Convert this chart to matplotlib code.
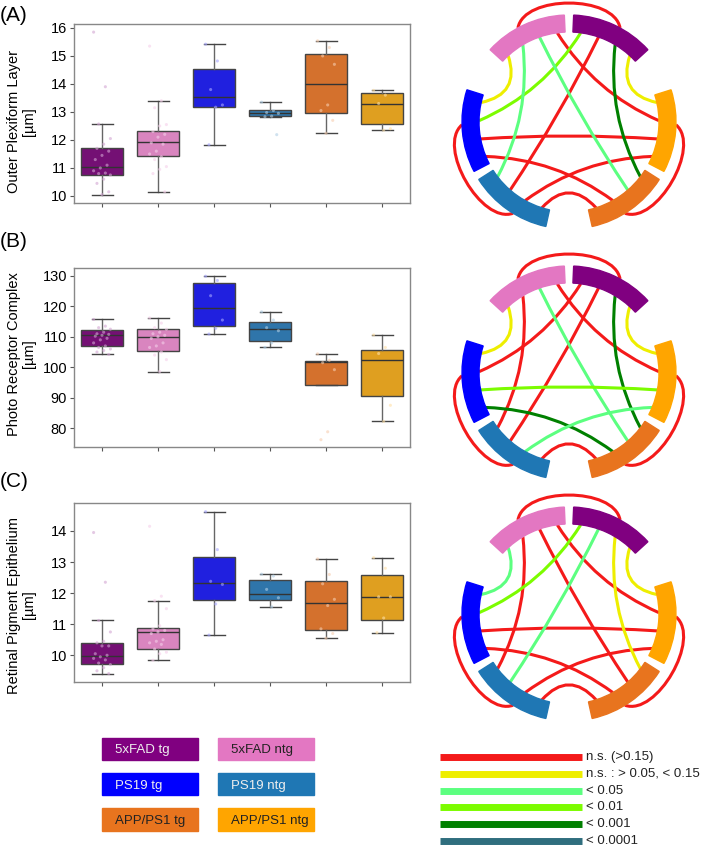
import numpy as np
import matplotlib.pyplot as plt
from matplotlib.patches import Wedge, Rectangle, PathPatch
from matplotlib.path import Path
from matplotlib.colors import to_rgb

plt.rcParams['font.family'] = ['Liberation Sans', 'DejaVu Sans']

W, H = 702, 847

# groups and colours
groups = ['5xFAD tg', '5xFAD ntg', 'PS19 tg', 'PS19 ntg', 'APP/PS1 tg', 'APP/PS1 ntg']
group_colors = ['#800080', '#e377c2', '#0000ff', '#1f77b4', '#e8741e', '#ffa500']
box_colors = ['#741074', '#d985bf', '#2020df', '#2f75aa', '#d4712d', '#df9f20']
legend_text_colors = ['#eeeeee', '#222222', '#eeeeee', '#eeeeee', '#222222', '#222222']

# box stats per group: (whisker low, Q1, median, Q3, whisker high)
opl_stats = [(10.05, 10.75, 11.03, 11.72, 12.57), (10.15, 11.42, 11.92, 12.32, 13.40),
             (11.83, 13.17, 13.52, 14.55, 15.42), (12.83, 12.85, 12.95, 13.07, 13.36),
             (12.24, 12.95, 13.99, 15.06, 15.54), (12.35, 12.57, 13.27, 13.69, 13.77)]
prc_stats = [(104.2, 107.1, 110.5, 112.3, 115.7), (98.6, 105.3, 110.0, 112.5, 116.2),
             (110.9, 113.6, 119.6, 127.7, 129.9), (106.5, 108.7, 112.7, 115.0, 118.2),
             (94.2, 94.2, 101.8, 102.0, 104.4), (82.2, 90.4, 102.5, 105.8, 110.6)]
rpe_stats = [(9.41, 9.71, 9.99, 10.39, 11.12), (9.84, 10.21, 10.74, 10.87, 11.76),
             (10.65, 11.78, 12.33, 13.16, 14.62), (11.56, 11.77, 11.98, 12.43, 12.61),
             (10.55, 10.82, 11.69, 12.39, 13.10), (10.73, 11.13, 11.88, 12.57, 13.14)]

opl_points = [
    [15.85, 13.9, 12.57, 12.05, 11.85, 11.7, 11.6, 11.45, 11.3, 11.1, 11.0, 10.9, 10.82, 10.8, 10.75, 10.6, 10.45, 10.15, 10.05],
    [15.35, 13.4, 13.15, 12.55, 12.5, 12.3, 12.2, 12.1, 11.9, 11.85, 11.6, 11.5, 11.4, 11.3, 11.05, 10.95, 10.8, 10.15],
    [15.42, 14.82, 13.8, 13.25, 13.17, 11.83],
    [13.35, 13.05, 12.98, 12.95, 12.85, 12.83, 12.19],
    [15.54, 15.3, 15.0, 14.7, 13.25, 13.05, 12.7, 12.24],
    [13.77, 13.6, 13.3, 12.4, 12.35]]
prc_points = [
    [115.7, 113.5, 113.0, 112.5, 111.5, 111.0, 110.8, 110.5, 110.2, 109.5, 109.0, 108.0, 107.0, 106.5, 106.0, 105.5, 105.0, 104.2],
    [116.2, 114.5, 113.0, 112.5, 111.5, 111.0, 110.5, 110.0, 109.5, 108.0, 107.0, 106.5, 105.0, 104.0, 102.5, 98.6],
    [129.9, 128.5, 123.5, 115.5, 112.8, 110.9],
    [118.2, 115.5, 113.0, 112.0, 108.0, 106.5],
    [104.4, 102.3, 101.5, 99.2, 78.8, 76.2],
    [110.6, 106.5, 104.5, 87.5, 82.2]]
rpe_points = [
    [13.95, 12.35, 11.12, 10.75, 10.45, 10.4, 10.3, 10.3, 10.05, 10.0, 9.95, 9.9, 9.85, 9.75, 9.7, 9.6, 9.5, 9.41],
    [14.15, 11.9, 11.76, 11.5, 10.95, 10.85, 10.8, 10.75, 10.7, 10.5, 10.45, 10.4, 10.35, 10.2, 10.1, 10.05, 9.84],
    [14.62, 13.4, 12.38, 12.28, 11.65, 10.65],
    [12.61, 12.55, 12.12, 11.85, 11.56],
    [13.1, 12.6, 12.3, 11.8, 11.6, 10.85, 10.7, 10.55],
    [13.14, 12.8, 11.88, 11.88, 11.2, 10.73]]

# significance classes
sig_labels = ['n.s. (>0.15)', 'n.s. : > 0.05, < 0.15', '< 0.05', '< 0.01', '< 0.001', '< 0.0001']
sig_colors = ['#f41a1a', '#eeee00', '#5cff80', '#7cfc00', '#008000', '#2f6e7e']

pairs = [(0, 1), (0, 2), (0, 3), (0, 4), (0, 5), (1, 2), (1, 3), (1, 4), (1, 5),
         (2, 3), (2, 4), (2, 5), (3, 4), (3, 5), (4, 5)]
opl_sig = [0, 3, 0, 4, 1, 1, 2, 2, 0, 0, 0, 0, 0, 0, 0]
prc_sig = [0, 0, 0, 4, 1, 1, 0, 2, 0, 0, 4, 3, 0, 2, 0]
rpe_sig = [0, 3, 2, 1, 1, 2, 0, 0, 0, 0, 0, 0, 0, 0, 0]

panels = [
    ('(A)', 'Outer Plexiform Layer\n[µm]', opl_stats, opl_points, opl_sig, (9.75, 16.14), np.arange(10, 17, 1)),
    ('(B)', 'Photo Receptor Complex\n[µm]', prc_stats, prc_points, prc_sig, (73.8, 132.6), np.arange(80, 131, 10)),
    ('(C)', 'Retinal Pigment Epithelium\n[µm]', rpe_stats, rpe_points, rpe_sig, (9.14, 14.9), np.arange(10, 15, 1)),
]
panel_tops = [24, 268, 503]      # px, top of box axes
label_tops = [6, 232, 472]       # px, "(A)" etc.
ylabel_pos = [0.455, 0.52, 0.43]  # axes fraction, centre of y label
circle_cy = [122, 373, 614]      # px, centre of chord diagram

fig = plt.figure(figsize=(W / 100, H / 100), dpi=100)


def px_axes(x, y, w, h):
    return fig.add_axes([x / W, 1 - (y + h) / H, w / W, h / H])


def lighten(c, f):
    r = np.array(to_rgb(c))
    return tuple(r + (1 - r) * f)


# ---- box plots ----
for (tag, ylab, stats, pts, sig, ylim, yt), top, ltop, lpos in zip(panels, panel_tops, label_tops, ylabel_pos):
    ax = px_axes(74, top, 336, 179)
    bx = [dict(whislo=s[0], q1=s[1], med=s[2], q3=s[3], whishi=s[4], fliers=[]) for s in stats]
    art = ax.bxp(bx, positions=range(6), widths=0.75, patch_artist=True, showfliers=False,
                 boxprops=dict(edgecolor='#444444', linewidth=1),
                 whiskerprops=dict(color='#666666', linewidth=1),
                 capprops=dict(color='#444444', linewidth=1),
                 medianprops=dict(color='#333333', linewidth=1))
    for patch, c in zip(art['boxes'], box_colors):
        patch.set_facecolor(c)
    for i, vals in enumerate(pts):
        n = len(vals)
        jit = (((np.arange(n) * 7) % 11) / 10 - 0.5) * 0.3
        ax.scatter(i + jit, vals, s=5, color=lighten(group_colors[i], 0.65), alpha=0.6,
                   edgecolors='none', zorder=3)
    ax.set_xlim(-0.5, 5.5)
    ax.set_ylim(*ylim)
    ax.set_yticks(yt)
    ax.set_xticks(range(6))
    ax.set_xticklabels([])
    ax.tick_params(axis='both', length=3, color='#555555', labelsize=10.5, pad=2)
    for sp in ax.spines.values():
        sp.set_color('#888888')
        sp.set_linewidth(1)
    ax.set_ylabel(ylab, fontsize=10.5, linespacing=1.1)
    ax.yaxis.set_label_coords(-0.113, lpos)
    fig.text(0.0, 1 - ltop / H, tag, fontsize=15, va='top', ha='left')

# ---- chord diagrams ----
R_OUT, ARC_W = 107, 17
R_IN = R_OUT - ARC_W
pair_center = [90, 210, 330]
arc_start = []
for c in pair_center:
    arc_start += [c - 47.5, c + 2.5]
slot_order = [[5, 4, 3, 2], [5, 4, 3, 2], [1, 0, 5, 4], [1, 0, 5, 4], [3, 2, 1, 0], [3, 2, 1, 0]]


def pol(r, a):
    a = np.radians(a)
    return np.array([r * np.cos(a), r * np.sin(a)])


def slot_angle(g, other):
    k = slot_order[g].index(other)
    return arc_start[g] + 5 + k * 35 / 3


for cy, (_, _, _, _, sig, _, _) in zip(circle_cy, panels):
    ax = px_axes(569 - 125, cy - 125, 250, 250)
    ax.set_xlim(-125, 125)
    ax.set_ylim(-125, 125)
    ax.axis('off')
    order = sorted(range(len(pairs)), key=lambda k: sig[k] != 0)
    for k in order:
        i, j = pairs[k]
        col = sig_colors[sig[k]]
        if j == i + 1 and i % 2 == 0:
            # tg vs ntg of same model: loop just outside the ring
            c = pair_center[i // 2]
            a0, a1 = c - 28.5, c + 28.5
            verts = [pol(R_OUT, a0), pol(135, a0 + 9), pol(135, a1 - 9), pol(R_OUT, a1)]
            codes = [Path.MOVETO, Path.CURVE4, Path.CURVE4, Path.CURVE4]
        else:
            p0 = pol(R_IN, slot_angle(i, j))
            p2 = pol(R_IN, slot_angle(j, i))
            ctrl = 0.65 * (p0 + p2) / 2
            verts = [p0, ctrl, p2]
            codes = [Path.MOVETO, Path.CURVE3, Path.CURVE3]
        ax.add_patch(PathPatch(Path(verts, codes), facecolor='none', edgecolor=col,
                               lw=2.2, clip_on=False, zorder=1))
    for g in range(6):
        ax.add_patch(Wedge((0, 0), R_OUT, arc_start[g], arc_start[g] + 45, width=ARC_W,
                           color=group_colors[g], zorder=2, clip_on=False))

# ---- legends ----
ov = fig.add_axes([0, 0, 1, 1], zorder=-1)
ov.set_xlim(0, W)
ov.set_ylim(H, 0)
ov.axis('off')

col_x = [102, 218]
row_y = [738, 773, 808.5]
for g, name in enumerate(groups):
    x = col_x[g % 2]
    y = row_y[g // 2]
    ov.add_patch(Rectangle((x, y), 96, 22.5, color=group_colors[g]))
    ov.text(x + 13, y + 12.5, name, fontsize=9.5, color=legend_text_colors[g],
            va='center', ha='left')

for k, (lab, c) in enumerate(zip(sig_labels, sig_colors)):
    y = 757 + k * 16.8
    ov.plot([440, 582], [y, y], color=c, lw=5, solid_capstyle='butt')
    ov.text(586, y, lab, fontsize=9.5, va='center', ha='left', color='#222222')

fig.savefig('out.png', dpi=100)
